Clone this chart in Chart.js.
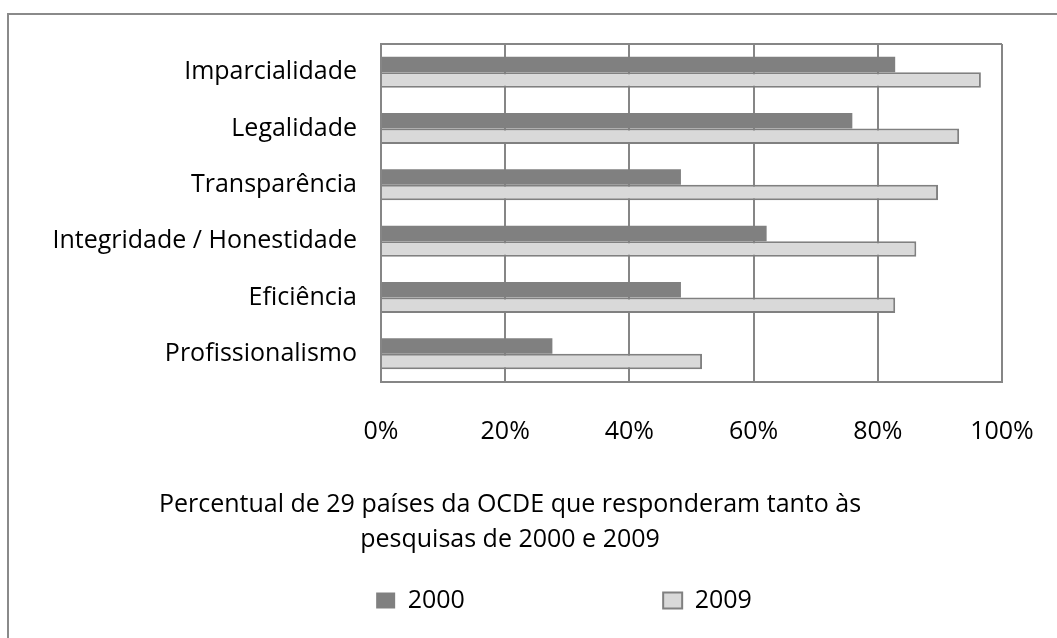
<!DOCTYPE html>
<html>
<head>
<meta charset="utf-8">
<script src="https://cdn.jsdelivr.net/npm/chart.js@4.4.1/dist/chart.umd.min.js"></script>
<style>
  body { margin: 0; background: #fff; overflow: hidden; }
  #frame { position: absolute; left: 7px; top: 13px; width: 1100px; height: 700px; border: 2px solid #8a8a8a; }
  #wrap { position: absolute; left: 0; top: 0; width: 1057px; height: 638px; }
</style>
</head>
<body>
<div id="frame"></div>
<div id="wrap"><canvas id="chartValores"></canvas></div>
<script>
/* data */
const categories = ['Imparcialidade', 'Legalidade', 'Transparência', 'Integridade / Honestidade', 'Eficiência', 'Profissionalismo'];
const seriesNames = ['2000', '2009'];
const values2000 = [82.8, 75.9, 48.3, 62.1, 48.3, 27.6];
const values2009 = [96.6, 93.1, 89.7, 86.2, 82.8, 51.7];
const titleLines = ['Percentual de 29 países da OCDE que responderam tanto às', 'pesquisas de 2000 e 2009'];

const FONT = 'Open Sans';
const FS = 25;

// draws the top edge of the plot box
const plotTop = {
  id: 'plotTop',
  beforeDatasetsDraw(chart) {
    const a = chart.chartArea;
    const ctx = chart.ctx;
    ctx.save();
    ctx.strokeStyle = '#868686';
    ctx.lineWidth = 2;
    ctx.beginPath();
    ctx.moveTo(a.left, a.top);
    ctx.lineTo(a.right, a.top);
    ctx.stroke();
    ctx.restore();
  }
};

// legend sits right of the title centre in the original
const nudgeLegend = {
  id: 'nudgeLegend',
  afterLayout(chart, args, opts) {
    chart.legend.left += opts.dx;
    chart.legend.right += opts.dx;
  }
};

// pad first legend text so the second item lands far to the right
function padLabel(chart, text, target) {
  const ctx = chart.ctx;
  ctx.save();
  ctx.font = FS + 'px "' + FONT + '"';
  let t = text;
  while (ctx.measureText(t).width < target) t += ' ';
  ctx.restore();
  return t;
}

const data = {
  labels: categories,
  datasets: [
    {
      label: seriesNames[0],
      data: values2000,
      backgroundColor: '#808080',
      borderColor: '#808080',
      borderWidth: 0,
    },
    {
      label: seriesNames[1],
      data: values2009,
      backgroundColor: '#d9d9d9',
      borderColor: '#808080',
      borderWidth: 2,
    },
  ]
};

const config = {
  type: 'bar',
  data: data,
  plugins: [plotTop, nudgeLegend],
  options: {
    indexAxis: 'y',
    responsive: true,
    maintainAspectRatio: false,
    animation: false,
    categoryPercentage: 0.55,
    barPercentage: 1.0,
    layout: { padding: { top: 44, right: 55, left: 18, bottom: 15 } },
    scales: {
      x: {
        min: 0,
        max: 100,
        ticks: {
          stepSize: 20,
          padding: 35,
          color: '#000',
          font: { family: FONT, size: FS },
          callback: v => v + '%',
        },
        grid: { color: '#868686', lineWidth: 2, drawTicks: false },
        border: { color: '#868686', width: 2 },
        afterFit: s => { s.height = 105; s.paddingLeft = 0; s.paddingRight = 0; },
      },
      y: {
        ticks: {
          padding: 24,
          color: '#000',
          font: { family: FONT, size: FS },
        },
        grid: { display: false, drawTicks: false },
        border: { color: '#868686', width: 2 },
        afterFit: s => { s.width = 363; },
      },
    },
    plugins: {
      tooltip: { enabled: false },
      title: {
        display: true,
        position: 'bottom',
        weight: 500,
        text: titleLines,
        color: '#000',
        font: { family: FONT, size: FS, weight: 'normal', lineHeight: 1.4 },
        padding: { top: 0, bottom: 21 },
      },
      legend: {
        position: 'bottom',
        weight: 1000,
        labels: {
          color: '#000',
          font: { family: FONT, size: FS },
          boxWidth: 19,
          boxHeight: 16,
          padding: 10,
          generateLabels: chart => {
            const items = Chart.defaults.plugins.legend.labels.generateLabels(chart);
            items[0].text = padLabel(chart, items[0].text, 284 - 10 - 19 - FS / 2);
            return items;
          },
        },
      },
      nudgeLegend: { dx: 54 },
    },
  },
};

const ctx = document.getElementById('chartValores').getContext('2d');
const chartValores = new Chart(ctx, config);
</script>
</body>
</html>
